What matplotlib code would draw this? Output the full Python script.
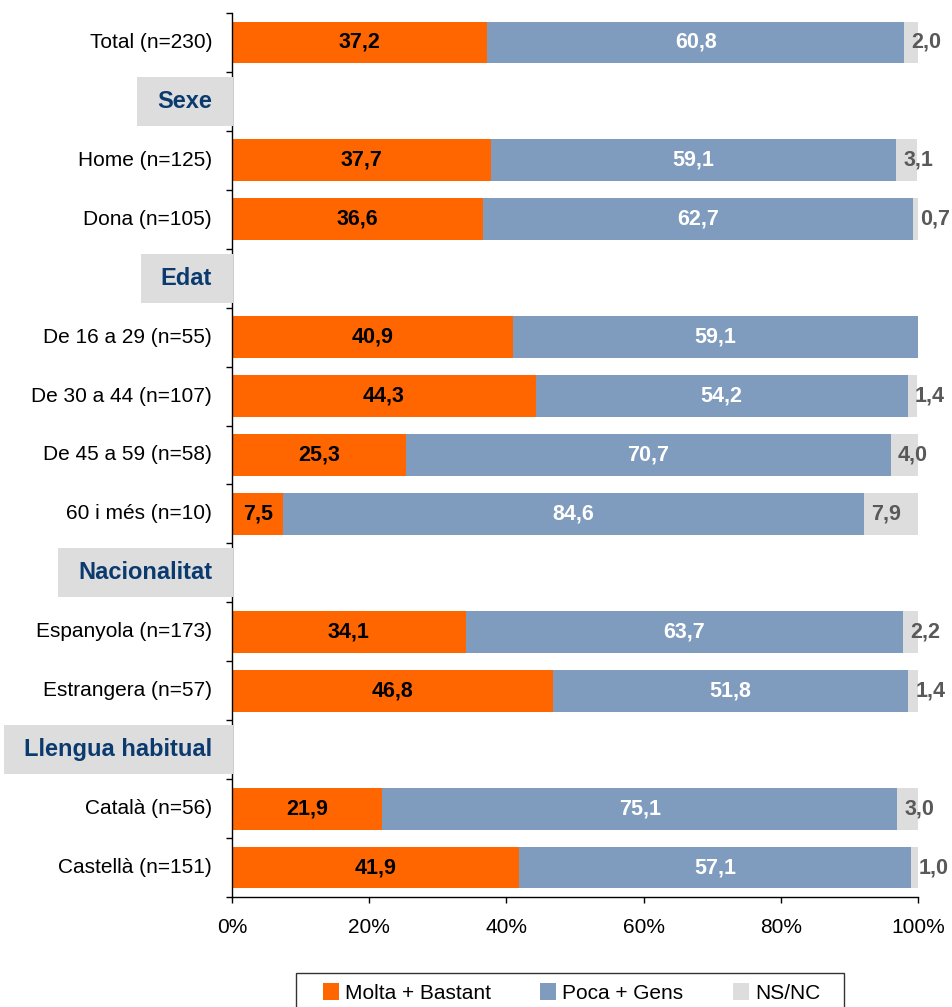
import matplotlib
matplotlib.use('Agg')
import matplotlib.pyplot as plt
import matplotlib.patches as patches
import matplotlib.transforms as mtransforms

plt.rcParams['font.family'] = ['Liberation Sans', 'DejaVu Sans']

# dades
categories = ["Total (n=230)", "Sexe", "Home (n=125)", "Dona (n=105)", "Edat",
              "De 16 a 29 (n=55)", "De 30 a 44 (n=107)", "De 45 a 59 (n=58)",
              "60 i més (n=10)", "Nacionalitat", "Espanyola (n=173)",
              "Estrangera (n=57)", "Llengua habitual", "Català (n=56)",
              "Castellà (n=151)"]
is_header = [False, True, False, False, True, False, False, False, False,
             True, False, False, True, False, False]
molta = [37.2, 0, 37.7, 36.6, 0, 40.9, 44.3, 25.3, 7.5, 0, 34.1, 46.8, 0, 21.9, 41.9]
poca = [60.8, 0, 59.1, 62.7, 0, 59.1, 54.2, 70.7, 84.6, 0, 63.7, 51.8, 0, 75.1, 57.1]
nsnc = [2.0, 0, 3.1, 0.7, 0, 0.0, 1.4, 4.0, 7.9, 0, 2.2, 1.4, 0, 3.0, 1.0]
series_names = ["Molta + Bastant", "Poca + Gens", "NS/NC"]
xticks = [0, 20, 40, 60, 80, 100]

c_orange = '#FF6600'
c_blue = '#7F9BBD'
c_grey = '#DDDDDD'
c_header = '#0B3A6E'


def fmt(v):
    return f"{v:.1f}".replace('.', ',')


fig = plt.figure(figsize=(9.52, 10.07), dpi=100)
ax = fig.add_axes([232 / 952, 1 - 897 / 1007, 686 / 952, 884 / 1007])

n = len(categories)
ys = list(range(n))
h = 0.71

left2 = [a + b for a, b in zip(molta, poca)]
ax.barh(ys, molta, height=h, color=c_orange, label=series_names[0], zorder=2)
ax.barh(ys, poca, left=molta, height=h, color=c_blue, label=series_names[1], zorder=2)
ax.barh(ys, nsnc, left=left2, height=h, color=c_grey, label=series_names[2], zorder=2)

ax.set_xlim(0, 100)
ax.set_ylim(n - 0.5, -0.5)

# etiquetes de valors
offset = mtransforms.ScaledTranslation(7 / 100, 0, fig.dpi_scale_trans)
for i in range(n):
    if is_header[i]:
        continue
    ax.text(molta[i] / 2, i, fmt(molta[i]), ha='center', va='center',
            fontsize=15.5, fontweight='bold', color='black', zorder=3)
    ax.text(molta[i] + poca[i] / 2, i, fmt(poca[i]), ha='center', va='center',
            fontsize=15.5, fontweight='bold', color='white', zorder=3)
    if nsnc[i] > 0:
        ax.text(left2[i], i, fmt(nsnc[i]), ha='left', va='center',
                fontsize=15.5, fontweight='bold', color='#595959', zorder=3,
                transform=ax.transData + offset, clip_on=False)

# eixos
for s in ['top', 'right']:
    ax.spines[s].set_visible(False)
ax.spines['left'].set_linewidth(1)
ax.spines['bottom'].set_linewidth(1)
ax.set_yticks([y - 0.5 for y in range(n + 1)])
ax.set_yticklabels([])
ax.tick_params(axis='y', direction='out', length=4, width=1)
ax.set_xticks(xticks)
ax.set_xticklabels([f"{x}%" for x in xticks], fontsize=15)
ax.tick_params(axis='x', direction='out', length=4, width=1, pad=11)

# etiquetes de categories i capçaleres
ytrans = ax.get_yaxis_transform()
lab_off = mtransforms.ScaledTranslation(-20 / 100, 0, fig.dpi_scale_trans)
header_texts = []
for i, cat in enumerate(categories):
    if is_header[i]:
        t = ax.text(0, i, cat, ha='right', va='center', fontsize=17,
                    fontweight='bold', color=c_header, zorder=6,
                    transform=ytrans + lab_off, clip_on=False)
        header_texts.append((i, t))
    else:
        ax.text(0, i, cat, ha='right', va='center', fontsize=15,
                color='black', transform=ytrans + lab_off, clip_on=False)

# caixes grises darrere les capçaleres
fig.canvas.draw()
renderer = fig.canvas.get_renderer()
inv = fig.transFigure.inverted()
for i, t in header_texts:
    bb = t.get_window_extent(renderer)
    x0 = bb.x0 - 20
    x1 = ax.get_window_extent(renderer).x0 + 1
    yc = ax.transData.transform((0, i))[1]
    (fx0, fy0) = inv.transform((x0, yc - 24.5))
    (fx1, fy1) = inv.transform((x1, yc + 24.5))
    rect = patches.Rectangle((fx0, fy0), fx1 - fx0, fy1 - fy0,
                             transform=fig.transFigure, facecolor=c_grey,
                             edgecolor='none', zorder=5, clip_on=False)
    ax.add_patch(rect)

# llegenda
leg = fig.legend(loc='center', bbox_to_anchor=(571.5 / 952, 1 - 993 / 1007), ncol=3,
                 fontsize=15, frameon=False, borderpad=0,
                 handlelength=0.77, handleheight=0.82, handletextpad=0.3,
                 columnspacing=2.35)
frame = patches.Rectangle((296 / 952, -0.01), 548 / 952, 0.01 + (1007 - 973) / 1007,
                          transform=fig.transFigure, facecolor='none',
                          edgecolor='#333333', linewidth=1, clip_on=False)
fig.add_artist(frame)

fig.savefig('out.png', dpi=100)
